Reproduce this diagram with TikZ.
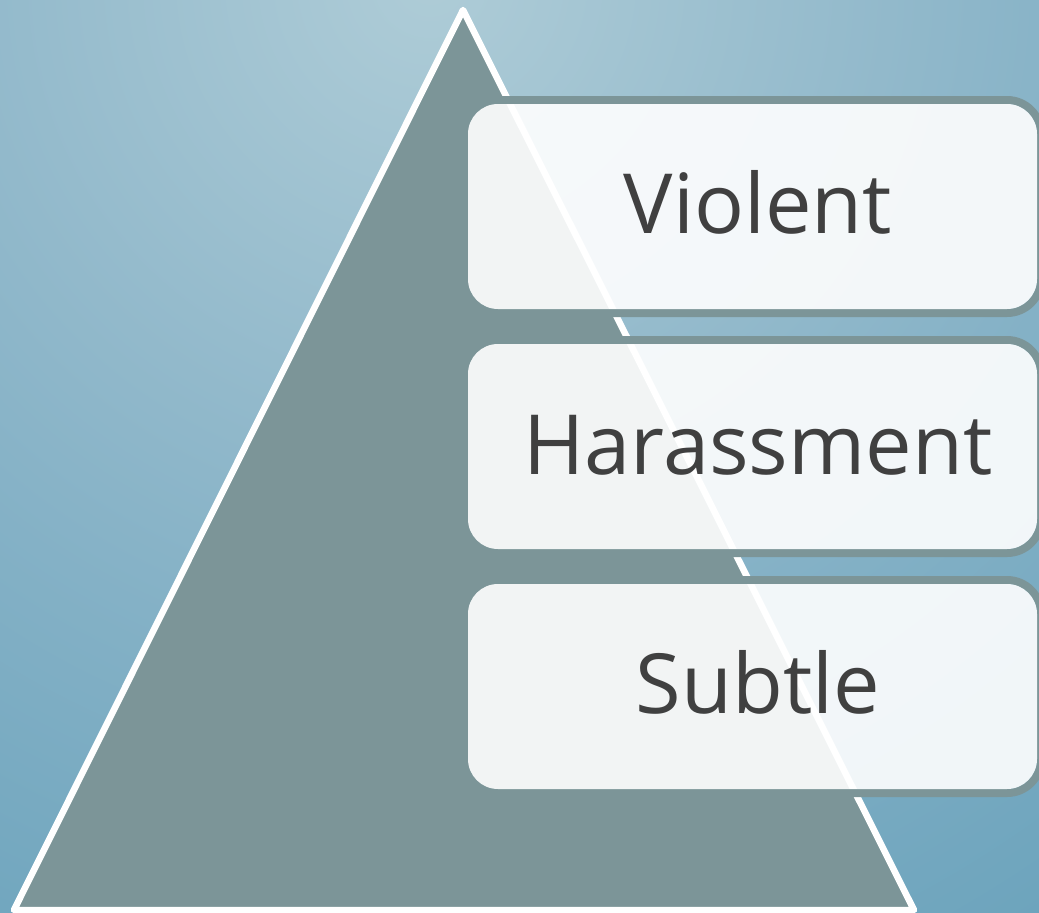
\documentclass[tikz,border=0pt]{standalone}
\usepackage{fontspec}
\setmainfont{Open Sans}
\definecolor{bgin}{HTML}{AECCD7}
\definecolor{bgmida}{HTML}{92B9CB}
\definecolor{bgmidb}{HTML}{84B1C6}
\definecolor{bgout}{HTML}{6BA3BC}
\definecolor{trigray}{HTML}{7C9598}
\definecolor{txtgray}{HTML}{404040}
\pgfdeclareradialshading{bgshade}{\pgfpoint{0bp}{0bp}}{color(0bp)=(bgin); color(10bp)=(bgmida); color(15bp)=(bgmidb); color(25bp)=(bgout); color(50bp)=(bgout)}
\tikzset{
  boxrim/.style={draw=trigray, line width=8pt, rounded corners=34pt},
  boxfill/.style={fill=white, fill opacity=0.9, rounded corners=30pt},
  lbl/.style={anchor=base, text=txtgray, font=\fontsize{83}{100}\selectfont, inner sep=0pt}
}
\begin{document}
\begin{tikzpicture}[x=1pt,y=-1pt]
\useasboundingbox (0,0) rectangle (1039,913);
\begin{scope}
\clip (0,0) rectangle (1039,913);
\fill[bgout] (0,0) rectangle (1039,913);
\shade[shading=bgshade] (430,-20) circle (1150pt);
\end{scope}
% pyramid
\draw[fill=trigray, draw=white, line width=6.5pt, line join=round] (463,10) -- (14,910) -- (914,910) -- cycle;
% box rims
\begin{scope}
\clip (0,0) rectangle (1039,913);
\draw[boxrim] (464,100) rectangle (1041,313);
\draw[boxrim] (464,340) rectangle (1041,553);
\draw[boxrim] (464,580) rectangle (1041,793);
\end{scope}
% boxes
\path[boxfill] (468,104) rectangle (1037,309);
\path[boxfill] (468,344) rectangle (1037,549);
\path[boxfill] (468,584) rectangle (1037,789);
% labels
\node[lbl] (violent) at (758,233) {Violent};
\node[lbl] (harass) at (758,474) {Harassment};
\node[lbl] (subtle) at (758,713) {Subtle};
\end{tikzpicture}
\end{document}
